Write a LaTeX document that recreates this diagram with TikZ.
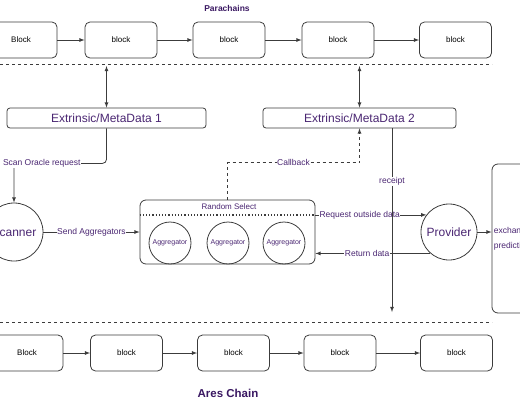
\documentclass[tikz,border=0pt]{standalone}
\usepackage{fontspec}
\setmainfont{Liberation Sans}
\usepackage{tikz}
\usetikzlibrary{calc,arrows,positioning}
\definecolor{labelpurple}{RGB}{74,38,114}
\definecolor{titlepurple}{RGB}{58,24,98}
\definecolor{linegray}{RGB}{60,60,60}

\begin{document}
\begin{tikzpicture}[x=1pt,y=-1pt,
    blk/.style={draw=linegray,line width=0.8pt,rounded corners=5pt,minimum width=72pt,minimum height=36pt,inner sep=0pt,font=\fontsize{8}{9}\selectfont},
    meta/.style={draw=linegray,line width=0.8pt,rounded corners=3pt,minimum height=20pt,inner sep=0pt,text=labelpurple,font=\fontsize{12}{14}\selectfont},
    bigcirc/.style={circle,draw=linegray,line width=0.8pt,inner sep=0pt,text=labelpurple,font=\fontsize{12}{14}\selectfont},
    agg/.style={circle,draw=linegray,line width=0.8pt,minimum size=42pt,inner sep=0pt,text=labelpurple,font=\fontsize{7}{8}\selectfont},
    lbl/.style={fill=white,inner sep=0.5pt,text=labelpurple,font=\fontsize{8.5}{10}\selectfont},
    link/.style={draw=linegray,line width=0.8pt,-latex}]
            \useasboundingbox (0,0) rectangle (520,400);
            \clip (0,0) rectangle (520,400);

            % parachain blocks
            \node[font=\fontsize{8.5}{10}\selectfont\bfseries,text=titlepurple] (parat) at (227,8) {Parachains};
            \node[blk] (p1) at (21,40) {Block};
            \node[blk] (p2) at (121,40) {block};
            \node[blk] (p3) at (229,40) {block};
            \node[blk] (p4) at (338,40) {block};
            \node[blk] (p5) at (455.5,40) {block};
            \draw[link] (p1)--(p2);
            \draw[link] (p2)--(p3);
            \draw[link] (p3)--(p4);
            \draw[link] (p4)--(p5);
            \coordinate (topL) at (0,64);
            \coordinate (topR) at (492,64);
            \draw[dashed,draw=linegray,line width=0.6pt] (topL)--(topR);

            % extrinsics
            \node[meta,minimum width=199pt] (ext1) at (106.5,118) {Extrinsic/MetaData 1};
            \node[meta,minimum width=193pt] (ext2) at (359.5,118) {Extrinsic/MetaData 2};
            \draw[link,latex-latex,shorten >=2pt] (ext1.north)--(ext1.north |- topL);
            \draw[link,latex-latex,shorten >=2pt] (ext2.north)--(ext2.north |- topL);

            % scanner and aggregators
            \node[bigcirc,minimum size=58pt] (scan) at (14,232) {Scanner};
            \node[draw=linegray,line width=0.8pt,rounded corners=6pt,minimum width=175pt,minimum height=64pt] (rs) at (227.5,232) {};
            \node[text=labelpurple,font=\fontsize{8}{9}\selectfont] (rstxt) at (229,207) {Random Select};
            \node[agg] (a1) at (170,243) {Aggregator};
            \node[agg] (a2) at (228,243) {Aggregator};
            \node[agg] (a3) at (284,243) {Aggregator};
            \node[bigcirc,minimum size=56pt] (prov) at (449,232) {Provider};
            \node[draw=linegray,line width=0.8pt,rounded corners=6pt,minimum width=60pt,minimum height=149pt] (pred) at (522,238.5) {};
            \node[anchor=west,align=left,text=labelpurple,font=\fontsize{8.5}{15}\selectfont,inner sep=0pt] (predtxt) at ([xshift=2pt]pred.west) {exchange\\prediction};

            \draw[link,rounded corners=4pt] (ext1.south)--++(0,35) -| (scan.north)
                node[lbl,pos=0.35] {Scan Oracle request};
            \draw[link] (scan.east)--(rs.west) node[lbl,midway] {Send Aggregators};
            \draw[dotted,draw=linegray,line width=1.2pt] (rs.west |- prov.143)--(rs.east |- prov.143);
            \draw[link] (rs.east |- prov.143)--(prov.143) node[lbl,pos=0.4] {Request outside data};
            \draw[link] (prov.229)--(rs.east |- prov.229) node[lbl,pos=0.55] {Return data};
            \draw[link] (prov.east)--(prov.east -| pred.west);
            \draw[link,dashed] (rs.north)--++(0,-37) -| (ext2.south) node[lbl,pos=0.25] {Callback};

            % receipt
            \coordinate (rcptend) at (392,312);
            \draw[link] ([xshift=32.5pt]ext2.south)--(rcptend) node[lbl,pos=0.29] {receipt};

            % ares chain blocks
            \coordinate (botL) at (0,322);
            \coordinate (botR) at (492,322);
            \draw[dashed,draw=linegray,line width=0.6pt] (botL)--(botR);
            \node[blk] (c1) at (27,353) {Block};
            \node[blk] (c2) at (126.5,353) {block};
            \node[blk] (c3) at (233.5,353) {block};
            \node[blk] (c4) at (340,353) {block};
            \node[blk] (c5) at (456.5,353) {block};
            \draw[link] (c1)--(c2);
            \draw[link] (c2)--(c3);
            \draw[link] (c3)--(c4);
            \draw[link] (c4)--(c5);
            \node[font=\fontsize{11.5}{13}\selectfont\bfseries,text=titlepurple] (arest) at (228,393) {Ares Chain};
        \end{tikzpicture}
\end{document}
